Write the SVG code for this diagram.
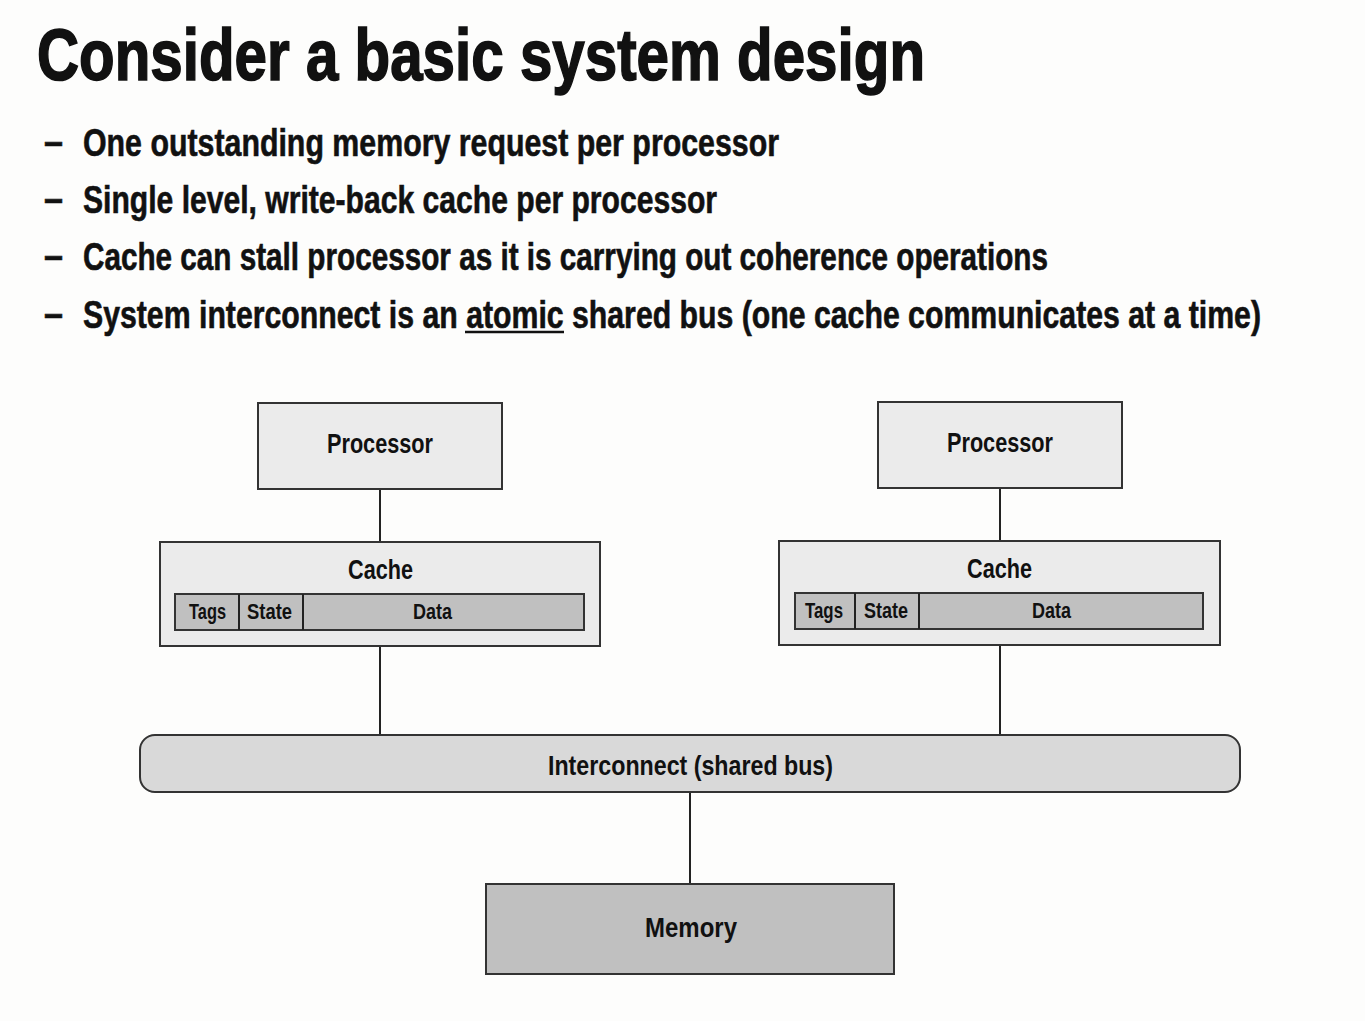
<svg xmlns="http://www.w3.org/2000/svg" width="1365" height="1021" viewBox="0 0 1365 1021">
<style>
.t{font-family:"Liberation Sans",Arial,sans-serif;font-weight:bold;fill:#111;}
.box{stroke:#333;stroke-width:2;}
.light{fill:#ebebeb;}
.mid{fill:#c0c0c0;}
.bus{fill:#d9d9d9;}
.conn{stroke:#222;stroke-width:2;fill:none;}
.lbl{font-size:28px;}
.sm{font-size:22px;}
.b{font-size:38px;stroke:#111;stroke-width:0.6;}
.h{font-size:72px;stroke:#111;stroke-width:1.6;}
</style>
<rect width="1365" height="1021" fill="#fdfdfc"/>
<g id="title">
<text class="t h" x="37" y="80" textLength="888" lengthAdjust="spacingAndGlyphs">Consider a basic system design</text>
</g>
<g id="bullets">
<text class="t b" x="44" y="155" textLength="19" lengthAdjust="spacingAndGlyphs">–</text>
<text class="t b" x="83" y="156" textLength="696" lengthAdjust="spacingAndGlyphs">One outstanding memory request per processor</text>
<text class="t b" x="44" y="212" textLength="19" lengthAdjust="spacingAndGlyphs">–</text>
<text class="t b" x="83" y="213" textLength="634" lengthAdjust="spacingAndGlyphs">Single level, write-back cache per processor</text>
<text class="t b" x="44" y="269" textLength="19" lengthAdjust="spacingAndGlyphs">–</text>
<text class="t b" x="83" y="270" textLength="965" lengthAdjust="spacingAndGlyphs">Cache can stall processor as it is carrying out coherence operations</text>
<text class="t b" x="44" y="327" textLength="19" lengthAdjust="spacingAndGlyphs">–</text>
<text class="t b" x="0" y="0" transform="translate(83 328) scale(0.8 1)" textLength="1472.5" lengthAdjust="spacingAndGlyphs">System interconnect is an atomic shared bus (one cache communicates at a time)</text>
<line x1="465" y1="332" x2="564" y2="332" stroke="#111" stroke-width="2.5"/>
</g>
<g id="connectors">
<line class="conn" x1="380" y1="489" x2="380" y2="542"/>
<line class="conn" x1="380" y1="646" x2="380" y2="735"/>
<line class="conn" x1="1000" y1="488" x2="1000" y2="541"/>
<line class="conn" x1="1000" y1="645" x2="1000" y2="735"/>
<line class="conn" x1="690" y1="792" x2="690" y2="884"/>
</g>
<g id="processor-left">
<rect class="box light" x="258" y="403" width="244" height="86"/>
<text class="t lbl" x="327" y="453" textLength="106" lengthAdjust="spacingAndGlyphs">Processor</text>
</g>
<g id="cache-left">
<rect class="box light" x="160" y="542" width="440" height="104"/>
<text class="t lbl" x="348" y="579" textLength="65" lengthAdjust="spacingAndGlyphs">Cache</text>
<rect class="box mid" x="175" y="594" width="409" height="36"/>
<line class="conn" x1="239" y1="594" x2="239" y2="630"/>
<line class="conn" x1="303" y1="594" x2="303" y2="630"/>
<text class="t sm" x="189" y="619" textLength="37" lengthAdjust="spacingAndGlyphs">Tags</text>
<text class="t sm" x="247" y="619" textLength="45" lengthAdjust="spacingAndGlyphs">State</text>
<text class="t sm" x="413" y="619" textLength="39" lengthAdjust="spacingAndGlyphs">Data</text>
</g>
<g id="processor-right">
<rect class="box light" x="878" y="402" width="244" height="86"/>
<text class="t lbl" x="947" y="452" textLength="106" lengthAdjust="spacingAndGlyphs">Processor</text>
</g>
<g id="cache-right">
<rect class="box light" x="779" y="541" width="441" height="104"/>
<text class="t lbl" x="967" y="578" textLength="65" lengthAdjust="spacingAndGlyphs">Cache</text>
<rect class="box mid" x="795" y="593" width="408" height="36"/>
<line class="conn" x1="855" y1="593" x2="855" y2="629"/>
<line class="conn" x1="919" y1="593" x2="919" y2="629"/>
<text class="t sm" x="805" y="618" textLength="38" lengthAdjust="spacingAndGlyphs">Tags</text>
<text class="t sm" x="864" y="618" textLength="44" lengthAdjust="spacingAndGlyphs">State</text>
<text class="t sm" x="1032" y="618" textLength="39" lengthAdjust="spacingAndGlyphs">Data</text>
</g>
<g id="interconnect">
<rect class="box bus" x="140" y="735" width="1100" height="57" rx="15" ry="15"/>
<text class="t lbl" x="548" y="775" textLength="285" lengthAdjust="spacingAndGlyphs">Interconnect (shared bus)</text>
</g>
<g id="memory">
<rect class="box mid" x="486" y="884" width="408" height="90"/>
<text class="t lbl" x="645" y="937" textLength="92" lengthAdjust="spacingAndGlyphs">Memory</text>
</g>
</svg>
